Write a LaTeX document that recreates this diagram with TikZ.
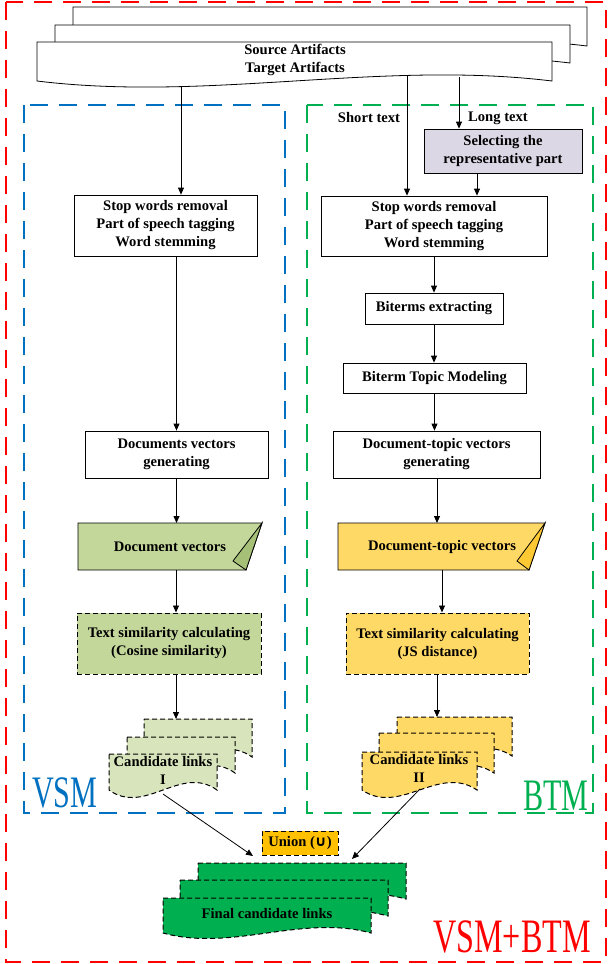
\documentclass[tikz,border=0pt]{standalone}
\usepackage{graphicx}
\usepackage{fontspec}
\setmainfont{Liberation Serif}
\newfontfamily\symfont{DejaVu Sans}
\usetikzlibrary{arrows.meta}
\definecolor{framered}{HTML}{FF0000}
\definecolor{frameblue}{HTML}{0070C0}
\definecolor{framegreen}{HTML}{00B050}
\definecolor{vsmfill}{HTML}{C4D79B}
\definecolor{vsmfold}{HTML}{A6C177}
\definecolor{vsmlight}{HTML}{D8E4BC}
\definecolor{btmfill}{HTML}{FFD966}
\definecolor{btmfold}{HTML}{FFC933}
\definecolor{unionfill}{HTML}{FFC000}
\definecolor{finalfill}{HTML}{00B050}
\definecolor{selfill}{HTML}{DCD7E5}
\newcommand{\bxfont}{\fontsize{14.6}{18}\selectfont\bfseries}
\newcommand{\bigfont}[2]{\scalebox{0.67}[1]{\fontsize{#1}{#1}\selectfont #2}}
\newcommand{\docsheet}[6]{\draw[#1] (#2,#4) -- (#3,#4) -- (#3,#5) .. controls ({#3-(#3-#2)/3},{#5-#6}) and ({#2+(#3-#2)/3},{#5+#6}) .. (#2,#5) -- cycle;}
\begin{document}
\begin{tikzpicture}[x=1pt,y=-1pt,
  frame/.style={line width=2.2pt, dash pattern=on 18pt off 11pt},
  box/.style={draw=black, line width=0.8pt, fill=white, rectangle, align=center, inner sep=0pt, font=\bxfont},
  dbox/.style={box, line width=1pt, dash pattern=on 5pt off 3pt},
  lbl/.style={align=center, inner sep=0pt, font=\bxfont},
  arr/.style={line width=0.8pt, -{Triangle[length=7pt,width=6pt]}},
  sheet/.style={draw=black, line width=0.8pt, fill=white},
  dsheet/.style={draw=black, line width=1pt, dash pattern=on 5pt off 3pt},
  fold/.style={draw=black, line width=0.8pt},
]
\useasboundingbox (0,0) rectangle (608,964);

% frames
\draw[frame, draw=framered] (6,2) rectangle (606,962);
\draw[frame, draw=frameblue] (24,105) rectangle (285,813);
\draw[frame, draw=framegreen] (307,105) rectangle (593,813);

% artifacts stack
\docsheet{sheet}{73}{587}{7}{46}{21}
\docsheet{sheet}{55}{570}{25}{63}{21}
\docsheet{sheet}{37}{552}{42}{81}{21}
\node[lbl] (src) at (295,60) {Source Artifacts\\Target Artifacts};
\coordinate (srcL) at (181,87);
\coordinate (srcS) at (407,76);
\coordinate (srcLong) at (459,77);

\node[lbl] (shortlbl) at (369,118) {Short text};
\node[lbl] (longlbl) at (498,118) {Long text};

% boxes
\node[box, fill=selfill, minimum width=158, minimum height=44] (sel) at (503,151) {Selecting the\\representative part};
\node[box, minimum width=183, minimum height=61] (stopL) at (165.5,225.5) {Stop words removal\\Part of speech tagging\\Word stemming};
\node[box, minimum width=226, minimum height=60] (stopR) at (434,226) {Stop words removal\\Part of speech tagging\\Word stemming};
\node[box, minimum width=138, minimum height=31] (biterms) at (434,308.5) {Biterms extracting};
\node[box, minimum width=183, minimum height=30] (btm) at (434.5,378) {Biterm Topic Modeling};
\node[box, minimum width=183, minimum height=47] (docsgen) at (176.5,454.5) {Documents vectors\\generating};
\node[box, minimum width=207, minimum height=47] (dtgen) at (436.5,454.5) {Document-topic vectors\\generating};

% stored data shapes
\draw[fold, fill=vsmfill] (78,523) -- (262,523) -- (246,570) -- (78,570) -- cycle;
\draw[fold, fill=vsmfold] (262,523) -- (233,561) -- (246,570) -- cycle;
\node[lbl] (docvec) at (170,547) {Document vectors};
\coordinate (docvecT) at (176,523);
\coordinate (docvecB) at (176,570);
\draw[fold, fill=btmfill] (338,523) -- (545,523) -- (529,570) -- (338,570) -- cycle;
\draw[fold, fill=btmfold] (545,523) -- (517,561) -- (529,570) -- cycle;
\node[lbl] (dtvec) at (442,547) {Document-topic vectors};
\coordinate (dtvecT) at (437,523);
\coordinate (dtvecB) at (442,570);

\node[dbox, fill=vsmfill, minimum width=184, minimum height=61] (simL) at (169,643.5) {Text similarity calculating\\(Cosine similarity)};
\node[dbox, fill=btmfill, minimum width=183, minimum height=61] (simR) at (437.5,643.5) {Text similarity calculating\\(JS distance)};

% candidate stacks
\docsheet{dsheet, fill=vsmlight}{144}{252}{719}{757}{26}
\docsheet{dsheet, fill=vsmlight}{127}{235}{737}{773}{26}
\docsheet{dsheet, fill=vsmlight}{109}{217}{754}{790}{26}
\node[lbl] (candL) at (163,770) {Candidate links\\I};
\coordinate (candLtop) at (176,719);
\coordinate (candLbot) at (163,794);

\docsheet{dsheet, fill=btmfill}{397}{512}{717}{756}{26}
\docsheet{dsheet, fill=btmfill}{379}{494}{733}{773}{26}
\docsheet{dsheet, fill=btmfill}{362}{477}{752}{790}{26}
\node[lbl] (candR) at (419,768) {Candidate links\\II};
\coordinate (candRtop) at (437,717);
\coordinate (candRbot) at (420,789);

% union and final
\node[dbox, fill=unionfill, minimum width=76, minimum height=24] (union) at (300,843) {Union ({\symfont ∪})};
\docsheet{dsheet, fill=finalfill}{198}{406}{863}{899}{19}
\docsheet{dsheet, fill=finalfill}{180}{388}{880}{916}{19}
\docsheet{dsheet, fill=finalfill}{163}{371}{898}{933}{19}
\node[lbl] (final) at (267,913) {Final candidate links};
\coordinate (finalL) at (253,856);
\coordinate (finalR) at (352,859);

% big labels
\node[anchor=base west, inner sep=0pt, text=frameblue] (vsm) at (32,807) {\bigfont{45}{VSM}};
\node[anchor=base west, inner sep=0pt, text=framegreen] (btmlbl) at (523,810) {\bigfont{45}{BTM}};
\node[anchor=base west, inner sep=0pt, text=framered] (both) at (433,952) {\bigfont{48}{VSM+BTM}};

% connectors
\draw[arr] (srcL) -- (srcL |- stopL.north);
\draw[arr] (srcS) -- (srcS |- stopR.north);
\draw[arr] (srcLong) -- (srcLong |- sel.north);
\draw[arr] ([xshift=-26pt]sel.south) -- ([xshift=-26pt]sel.south |- stopR.north);
\draw[arr] (stopL.south -| docsgen.north) -- (docsgen.north);
\draw[arr] (docsgen.south) -- (docsgen.south |- docvecT);
\draw[arr] (docvecB) -- (docvecB |- simL.north);
\draw[arr] (simL.south -| candLtop) -- (candLtop);
\draw[arr] (stopR.south) -- (stopR.south |- biterms.north);
\draw[arr] (biterms.south) -- (biterms.south |- btm.north);
\draw[arr] (btm.south) -- (btm.south |- dtgen.north);
\draw[arr] (dtgen.south -| dtvecT) -- (dtvecT);
\draw[arr] (dtvecB) -- (dtvecB |- simR.north);
\draw[arr] (simR.south -| candRtop) -- (candRtop);
\draw[arr] (candLbot) -- (finalL);
\draw[arr] (candRbot) -- (finalR);
\end{tikzpicture}
\end{document}
